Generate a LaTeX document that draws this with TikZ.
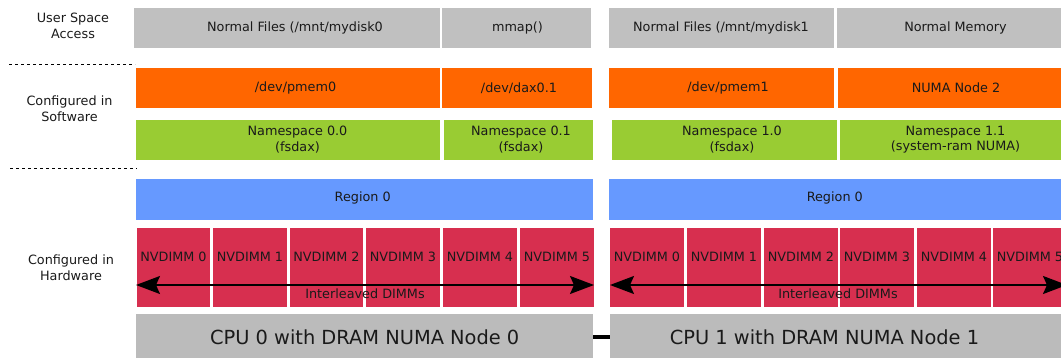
\documentclass[tikz,border=0pt]{standalone}
\usepackage{fontspec}
\setmainfont{DejaVu Sans}
\usetikzlibrary{arrows.meta}
\definecolor{ugray}{HTML}{C0C0C0}
\definecolor{cgray}{HTML}{BBBBBB}
\definecolor{sorange}{HTML}{FF6600}
\definecolor{sgreen}{HTML}{99CC33}
\definecolor{rblue}{HTML}{6699FF}
\definecolor{dred}{HTML}{D72F4F}
\definecolor{tblack}{HTML}{1A1A1A}
\newcommand\tbox[9]{%
  \pgfmathsetmacro\tbW{#4-#3}%
  \pgfmathsetmacro\tbH{#6-#5}%
  \pgfmathsetmacro\tbCX{(#3+#4)/2}%
  \pgfmathsetmacro\tbCY{(#5+#6)/2}%
  \pgfmathsetmacro\tbDX{#7-\tbCX}%
  \pgfmathsetmacro\tbDY{\tbCY-#8}%
  \node[box, #2, minimum width=\tbW pt, minimum height=\tbH pt,
        label={[txt, xshift=\tbDX pt, yshift=\tbDY pt]center:{#9}}] (#1) at (\tbCX,\tbCY) {};%
}
\begin{document}
\begin{tikzpicture}[x=1pt, y=-1pt,
  box/.style={draw=none, inner sep=0pt, outer sep=0pt, rectangle},
  txt/.style={inner sep=0pt, align=center, text=tblack, font=\fontsize{12.8}{15.5}\selectfont},
  bigtxt/.style={inner sep=0pt, align=center, text=tblack, font=\fontsize{19.4}{23}\selectfont},
  side/.style={inner sep=0pt, align=center, text=tblack, font=\fontsize{12.8}{16}\selectfont},
  sep/.style={line width=0.9pt, dash pattern=on 3pt off 3pt, black},
  ilarrow/.style={line width=1.6pt, black,
    {Stealth[length=24pt, width=18pt, inset=4pt]}-{Stealth[length=24pt, width=18pt, inset=4pt]}},
  link/.style={line width=4.5pt, black},
  ]
\useasboundingbox (0,0) rectangle (1061,358);
\clip (0,0) rectangle (1061,358);

% side labels
\node[side] (lab1) at (73,26) {User Space\\Access};
\node[side] (lab2) at (69.5,109) {Configured in\\Software};
\node[side] (lab3) at (71,268) {Configured in\\Hardware};
\draw[sep] (9,64) -- (135,64);
\draw[sep] (10,168) -- (137,168);

% user space row
\tbox{u1}{fill=ugray}{134}{440}{8}{48}{295}{28}{Normal Files (/mnt/mydisk0}
\tbox{u2}{fill=ugray}{442}{591}{8}{48}{517.5}{28}{mmap()}
\tbox{u3}{fill=ugray}{609}{834}{8}{48}{721}{28}{Normal Files (/mnt/mydisk1}
\tbox{u4}{fill=ugray}{837}{1074}{8}{48}{955.5}{28}{Normal Memory}

% software row: devices
\tbox{s1}{fill=sorange}{136}{440}{68}{108.5}{295.5}{88}{/dev/pmem0}
\tbox{s2}{fill=sorange}{442}{592}{68}{108.5}{519}{88}{/dev/dax0.1}
\tbox{s3}{fill=sorange}{609}{834}{68}{108.5}{728}{88}{/dev/pmem1}
\tbox{s4}{fill=sorange}{838}{1074}{68}{108.5}{956}{88}{NUMA Node 2}

% software row: namespaces
\tbox{g1}{fill=sgreen}{136}{440}{120}{160.5}{297.5}{139.5}{Namespace 0.0\\(fsdax)}
\tbox{g2}{fill=sgreen}{444}{593}{120}{160.5}{521}{139.5}{Namespace 0.1\\(fsdax)}
\tbox{g3}{fill=sgreen}{612}{837}{120}{160.5}{732}{139.5}{Namespace 1.0\\(fsdax)}
\tbox{g4}{fill=sgreen}{840}{1074}{120}{160.5}{955.5}{139.5}{Namespace 1.1\\(system-ram NUMA)}

% regions
\tbox{r0}{fill=rblue}{136}{593}{179}{220}{362.7}{198.3}{Region 0}
\tbox{r1}{fill=rblue}{609}{1067}{179}{220}{834.8}{198.3}{Region 0}

% NVDIMMs socket 0
\tbox{d00}{fill=dred}{137}{210}{228}{307.5}{173.5}{257}{NVDIMM 0}
\tbox{d01}{fill=dred}{213}{287}{228}{307.5}{250}{257}{NVDIMM 1}
\tbox{d02}{fill=dred}{290}{363}{228}{307.5}{326.5}{257}{NVDIMM 2}
\tbox{d03}{fill=dred}{366}{440}{228}{307.5}{403}{257}{NVDIMM 3}
\tbox{d04}{fill=dred}{443}{517}{228}{307.5}{480}{257}{NVDIMM 4}
\tbox{d05}{fill=dred}{520}{594}{228}{307.5}{557}{257}{NVDIMM 5}
% NVDIMMs socket 1
\tbox{d10}{fill=dred}{610}{684}{228}{307.5}{647}{257}{NVDIMM 0}
\tbox{d11}{fill=dred}{687}{761}{228}{307.5}{724}{257}{NVDIMM 1}
\tbox{d12}{fill=dred}{764}{838}{228}{307.5}{801}{257}{NVDIMM 2}
\tbox{d13}{fill=dred}{840}{914}{228}{307.5}{877}{257}{NVDIMM 3}
\tbox{d14}{fill=dred}{917}{991}{228}{307.5}{954}{257}{NVDIMM 4}
\tbox{d15}{fill=dred}{993}{1067}{228}{307.5}{1030}{257}{NVDIMM 5}

% interleave arrows
\coordinate (a0l) at (136,285);
\coordinate (a0r) at (594,285);
\coordinate (a1l) at (610,285);
\coordinate (a1r) at (1067,285);
\draw[ilarrow] (a0l) -- (a0r);
\draw[ilarrow] (a1l) -- (a1r);
\node[txt] (il0) at (365,294) {Interleaved DIMMs};
\node[txt] (il1) at (838,294) {Interleaved DIMMs};

% CPUs
\node[box, fill=cgray, minimum width=457pt, minimum height=46pt,
      label={[bigtxt, xshift=0.2pt, yshift=0pt]center:{CPU 0 with DRAM NUMA Node 0}}] (cpu0) at (364.5,337) {};
\node[box, fill=cgray, minimum width=457pt, minimum height=46pt,
      label={[bigtxt, xshift=-14pt, yshift=0pt]center:{CPU 1 with DRAM NUMA Node 1}}] (cpu1) at (838.5,337) {};
\draw[link] (cpu0.east) -- (cpu1.west);
\end{tikzpicture}
\end{document}
